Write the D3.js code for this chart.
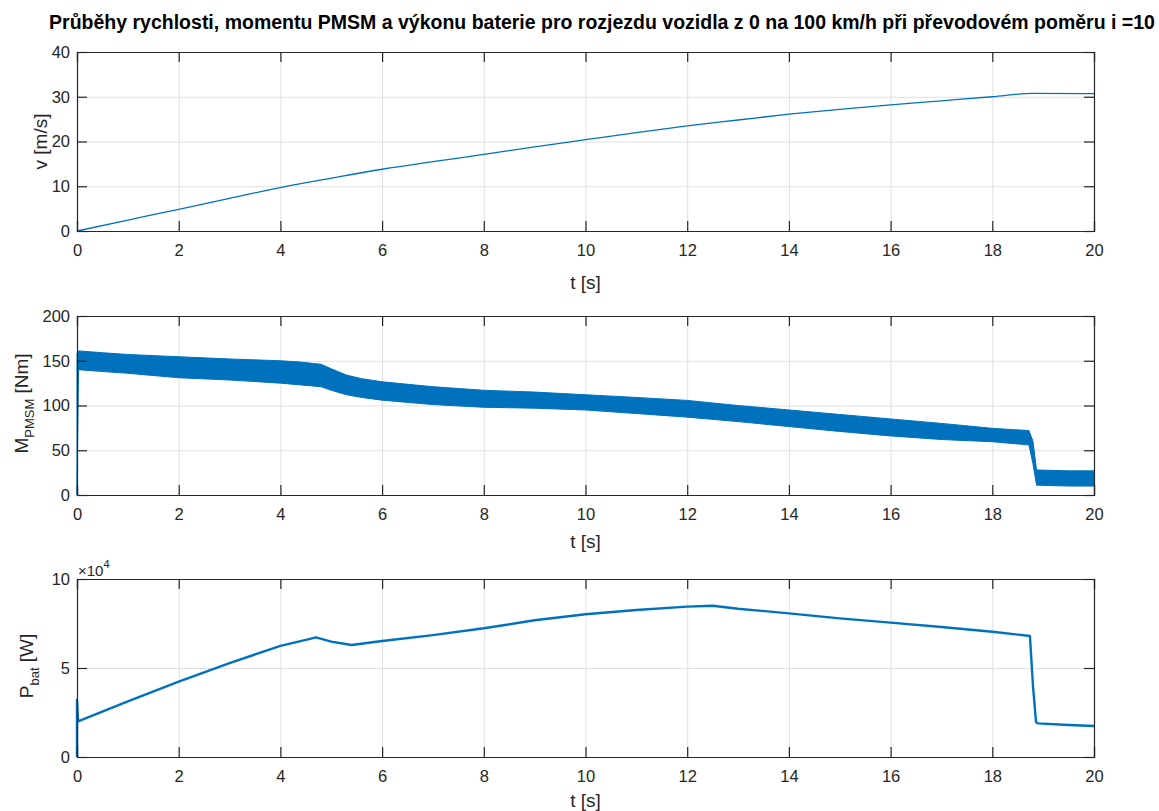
<!DOCTYPE html>
<html>
<head>
<meta charset="utf-8">
<script src="https://cdn.jsdelivr.net/npm/d3@7"></script>
<style>
body { margin: 0; background: #fff; }
text { font-family: "Liberation Sans", Arial, sans-serif; fill: #262626; }
</style>
</head>
<body>
<script>
// speed v [m/s]
const tV = [0, 1, 2, 3, 4, 5, 6, 7, 8, 9, 10, 11, 12, 13, 14, 15, 16, 17, 18, 18.8, 20]
const vVals = [0, 2.45, 4.85, 7.3, 9.7, 11.8, 13.8, 15.5, 17.1, 18.8, 20.4, 22.0, 23.5, 24.8, 26.1, 27.2, 28.2, 29.1, 30.0, 30.75, 30.7]

// PMSM torque [Nm], noisy band read as upper / lower envelope
const tM = [0, 0.03, 0.5, 1, 2, 3, 4, 4.4, 4.8, 5.0, 5.3, 5.6, 6, 7, 8, 9, 10, 11, 12, 13, 14, 15, 16, 17, 18, 18.72, 18.8, 18.87, 19.5, 20]
const mUpper = [158, 161, 159, 157, 154.5, 152, 150, 148.5, 146, 141, 134, 130, 126.5, 121, 117, 115, 112, 109, 105.7, 100, 95, 90, 85, 80, 74.5, 72, 60, 28, 27, 27]
const mLower = [0, 140, 138, 136, 131, 128.5, 125, 123, 121, 117, 112, 109, 106, 101, 98, 97, 95, 91, 87, 82, 76.5, 71, 66, 62, 59.5, 56, 35, 11, 10, 10]

// battery power [x10^4 W]
const tP = [0, 0, 0.02, 1, 2, 3, 4, 4.5, 4.7, 5.0, 5.4, 6, 7, 8, 9, 10, 11, 12, 12.5, 13, 14, 15, 16, 17, 18, 18.74, 18.8, 18.86, 18.9, 19.5, 20]
const pVals = [0, 3.2, 2.0, 3.12, 4.23, 5.28, 6.24, 6.58, 6.72, 6.48, 6.29, 6.52, 6.85, 7.23, 7.68, 8.02, 8.26, 8.45, 8.5, 8.33, 8.07, 7.79, 7.55, 7.3, 7.04, 6.8, 4.0, 1.95, 1.89, 1.8, 1.74]

const xTicks = [0, 2, 4, 6, 8, 10, 12, 14, 16, 18, 20]
const vTicks = [0, 10, 20, 30, 40]
const mTicks = [0, 50, 100, 150, 200]
const pTicks = [0, 5, 10]

const titleText = 'Průběhy rychlosti, momentu PMSM a výkonu baterie pro rozjezdu vozidla z 0 na 100 km/h při převodovém poměru i =10'

const W = 1159, H = 811
const left = 77, right = 1094
const blue = '#0072BD'

const svg = d3.select('body').append('svg')
    .attr('width', W)
    .attr('height', H)

svg.append('text')
    .attr('x', 602)
    .attr('y', 29)
    .attr('text-anchor', 'middle')
    .attr('font-size', 19.5)
    .attr('font-weight', 'bold')
    .style('fill', '#000')
    .text(titleText)

const x = d3.scaleLinear().domain([0, 20]).range([left, right])

const panels = [
    {top: 52, bottom: 231, max: 40, ticks: vTicks, xlab: 289},
    {top: 316, bottom: 495, max: 200, ticks: mTicks, xlab: 548},
    {top: 579, bottom: 757, max: 10, ticks: pTicks, xlab: 807}
]

panels.forEach(function(p) {
    p.y = d3.scaleLinear().domain([0, p.max]).range([p.bottom, p.top])
    const h = p.bottom - p.top
    const g = svg.append('g')

    // grid
    g.append('g')
        .attr('transform', 'translate(0,' + p.bottom + ')')
        .call(d3.axisBottom(x).tickValues(xTicks).tickSize(-h).tickFormat(''))
        .call(s => s.select('.domain').remove())
        .selectAll('line').attr('stroke', '#e0e0e0')
    g.append('g')
        .attr('transform', 'translate(' + left + ',0)')
        .call(d3.axisLeft(p.y).tickValues(p.ticks).tickSize(-(right - left)).tickFormat(''))
        .call(s => s.select('.domain').remove())
        .selectAll('line').attr('stroke', '#e0e0e0')

    p.g = g
})

function drawFrame(p) {
    const g = p.g
    const ax = [
        g.append('g').attr('transform', 'translate(0,' + p.bottom + ')')
            .call(d3.axisBottom(x).tickValues(xTicks).tickSize(-10).tickPadding(13).tickFormat(d3.format('d'))),
        g.append('g').attr('transform', 'translate(0,' + p.top + ')')
            .call(d3.axisTop(x).tickValues(xTicks).tickSize(-10).tickFormat('')),
        g.append('g').attr('transform', 'translate(' + left + ',0)')
            .call(d3.axisLeft(p.y).tickValues(p.ticks).tickSize(-10).tickPadding(7).tickFormat(d3.format('d'))),
        g.append('g').attr('transform', 'translate(' + right + ',0)')
            .call(d3.axisRight(p.y).tickValues(p.ticks).tickSize(-10).tickFormat(''))
    ]
    ax.forEach(function(a) {
        a.select('.domain').attr('stroke', '#262626').attr('stroke-width', 1.2)
        a.selectAll('.tick line').attr('stroke', '#262626').attr('stroke-width', 1.2)
        a.selectAll('.tick text').attr('font-size', 16.5).style('fill', '#262626')
            .attr('font-family', '"Liberation Sans", Arial, sans-serif')
    })
    g.append('text')
        .attr('x', (left + right) / 2)
        .attr('y', p.xlab)
        .attr('text-anchor', 'middle')
        .attr('font-size', 19)
        .text('t [s]')
}

// speed
const p1 = panels[0]
p1.g.append('path')
    .datum(tV.map((t, i) => [t, vVals[i]]))
    .attr('fill', 'none')
    .attr('stroke', blue)
    .attr('stroke-width', 1.3)
    .attr('d', d3.line().x(d => x(d[0])).y(d => p1.y(d[1])).curve(d3.curveMonotoneX))

// torque band
const p2 = panels[1]
p2.g.append('path')
    .datum(tM.map((t, i) => [t, mLower[i], mUpper[i]]))
    .attr('fill', blue)
    .attr('stroke', blue)
    .attr('stroke-width', 1)
    .attr('d', d3.area().x(d => x(d[0])).y0(d => p2.y(d[1])).y1(d => p2.y(d[2])))

// battery power
const p3 = panels[2]
p3.g.append('path')
    .datum(tP.map((t, i) => [t, pVals[i]]))
    .attr('fill', 'none')
    .attr('stroke', blue)
    .attr('stroke-width', 2.4)
    .attr('stroke-linejoin', 'round')
    .attr('d', d3.line().x(d => x(d[0])).y(d => p3.y(d[1])))

panels.forEach(drawFrame)

// y labels
svg.append('text')
    .attr('transform', 'translate(47,' + (p1.top + p1.bottom) / 2 + ') rotate(-90)')
    .attr('text-anchor', 'middle')
    .attr('font-size', 19)
    .text('v [m/s]')

const m = svg.append('text')
    .attr('transform', 'translate(28,' + ((p2.top + p2.bottom) / 2 - 2) + ') rotate(-90)')
    .attr('text-anchor', 'middle')
    .attr('font-size', 19)
m.append('tspan').text('M')
m.append('tspan').attr('dy', 6).attr('font-size', 13).text('PMSM')
m.append('tspan').attr('dy', -6).text(' [Nm]')

const pl = svg.append('text')
    .attr('transform', 'translate(33,' + ((p3.top + p3.bottom) / 2 - 2) + ') rotate(-90)')
    .attr('text-anchor', 'middle')
    .attr('font-size', 19)
pl.append('tspan').text('P')
pl.append('tspan').attr('dy', 6).attr('font-size', 13).text('bat')
pl.append('tspan').attr('dy', -6).text(' [W]')

// exponent label
const ex = svg.append('text')
    .attr('x', 78)
    .attr('y', 576)
    .attr('font-size', 15)
ex.append('tspan').text('×10')
ex.append('tspan').attr('dy', -8).attr('font-size', 11).text('4')
</script>
</body>
</html>
